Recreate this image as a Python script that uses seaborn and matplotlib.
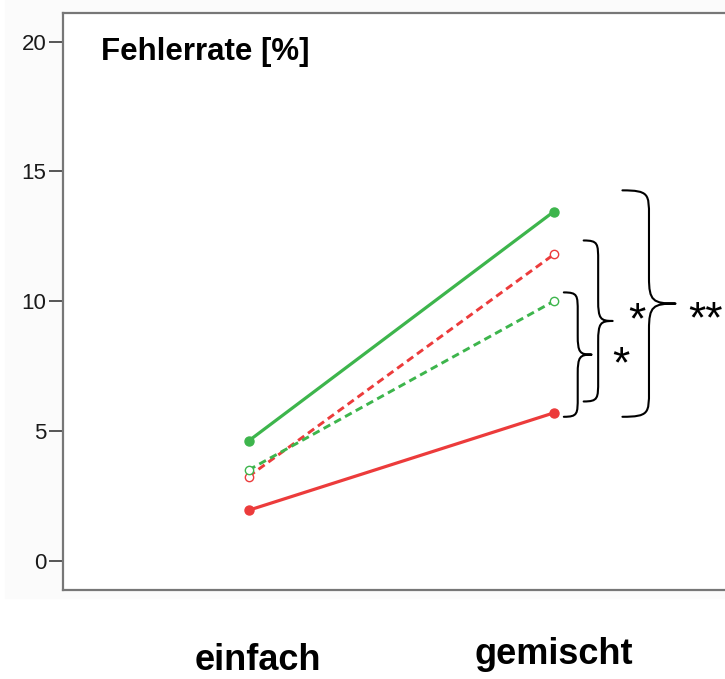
import matplotlib
matplotlib.use("Agg")
import matplotlib.pyplot as plt
import matplotlib.patches as mpatches
import matplotlib.transforms as mtransforms
from matplotlib.path import Path
import seaborn as sns
import pandas as pd

categories = ["einfach", "gemischt"]
green_solid = [4.62, 13.45]
red_dashed = [3.25, 11.80]
green_dashed = [3.50, 10.00]
red_solid = [1.95, 5.70]
y_ticks = [0, 5, 10, 15, 20]
title_text = "Fehlerrate [%]"
# significance brackets: (lower, upper, label)
bracket_lo = [5.55, 6.14, 5.55]
bracket_hi = [10.34, 12.34, 14.27]
bracket_labels = ["*", "*", "**"]

GREEN = "#3db54c"
RED = "#ec3b3b"

sns.set_theme(style="white")
plt.rcParams["font.family"] = ["Liberation Sans", "DejaVu Sans"]

W, H = 725, 679
fig = plt.figure(figsize=(W / 100, H / 100), dpi=100)
fig.patch.set_facecolor("white")
fig.patches.append(mpatches.Rectangle((5 / W, 1 - 598 / H), 1, 598 / H,
                                      transform=fig.transFigure, color="#fbfbfb",
                                      zorder=-10))

ax = fig.add_axes([63 / W, 1 - 590 / H, 0.98, (590 - 13) / H])
ax.set_facecolor("white")

series = [
    (green_solid, GREEN, "-", True),
    (red_dashed, RED, (0, (2.6, 1.6)), False),
    (green_dashed, GREEN, (0, (2.6, 1.6)), False),
    (red_solid, RED, "-", True),
]
for vals, col, ls, filled in series:
    df = pd.DataFrame({"x": [0, 1], "y": vals})
    sns.lineplot(data=df, x="x", y="y", ax=ax, color=col, linestyle=ls,
                 linewidth=2.3 if filled else 2.1, marker="o",
                 markersize=6.5 if filled else 6.0,
                 markerfacecolor=col if filled else "white",
                 markeredgecolor=col, markeredgewidth=1.0,
                 legend=False)

ax.set_xlim(-0.608, 1.72)
ax.set_ylim(-1.12, 21.1)
ax.set_yticks(y_ticks)
ax.set_yticklabels([str(t) for t in y_ticks], fontsize=16, color="#1a1a1a")
ax.set_xticks([0.03, 1.0])
ax.set_xticklabels(categories, fontsize=26, fontweight="bold", color="black")
ax.tick_params(axis="x", length=0, pad=38)
ax.tick_params(axis="y", length=10, width=1.4, color="#555555", pad=2, left=True)
ax.set_xlabel("")
ax.set_ylabel("")
# gemischt label sits slightly higher in the reference
lbl = ax.get_xticklabels()[1]
lbl.set_transform(lbl.get_transform() +
                  mtransforms.ScaledTranslation(0, 4 / 72, fig.dpi_scale_trans))
for side in ["left", "bottom", "top"]:
    ax.spines[side].set_color("#777777")
    ax.spines[side].set_linewidth(1.6)
ax.spines["right"].set_visible(False)

ax.text(101 / W, 1 - 52 / H, title_text, transform=fig.transFigure,
        fontsize=22.5, fontweight="bold", ha="left", va="center", color="black")

# curly brackets
def brace(ax, x0, x_tip, lo, hi, r, lw=1.5):
    mid = (lo + hi) / 2
    xm = x0 + (x_tip - x0) * 0.5
    verts = [
        (x0, hi),
        (xm, hi), (xm, hi - r * 0.15), (xm, hi - r),
        (xm, mid + r),
        (xm, mid + r * 0.1), (xm + (x_tip - xm) * 0.15, mid), (x_tip, mid),
        (xm + (x_tip - xm) * 0.15, mid), (xm, mid - r * 0.1), (xm, mid - r),
        (xm, lo + r),
        (xm, lo + r * 0.15), (xm, lo), (x0, lo),
    ]
    codes = [Path.MOVETO,
             Path.CURVE4, Path.CURVE4, Path.CURVE4,
             Path.LINETO,
             Path.CURVE4, Path.CURVE4, Path.CURVE4,
             Path.CURVE4, Path.CURVE4, Path.CURVE4,
             Path.LINETO,
             Path.CURVE4, Path.CURVE4, Path.CURVE4]
    ax.add_patch(mpatches.PathPatch(Path(verts, codes), fill=False,
                                    lw=lw, color="black", clip_on=False,
                                    capstyle="round", joinstyle="round"))

brace_x = [(1.033, 1.124), (1.098, 1.193), (1.225, 1.399)]
brace_r = [0.75, 0.8, 1.0]
label_x = [1.219, 1.271, 1.440]
label_ha = ["center", "center", "left"]
label_dy = [0.12, 0.52, -0.12]
for (x0, xt), lo, hi, r, lab, lx, ha, dy in zip(brace_x, bracket_lo, bracket_hi,
                                                brace_r, bracket_labels, label_x,
                                                label_ha, label_dy):
    brace(ax, x0, xt, lo, hi, r)
    ax.text(lx, (lo + hi) / 2 + dy - 0.98, lab, fontsize=32, ha=ha,
            va="baseline", color="black")

fig.savefig("out.png", dpi=100)
